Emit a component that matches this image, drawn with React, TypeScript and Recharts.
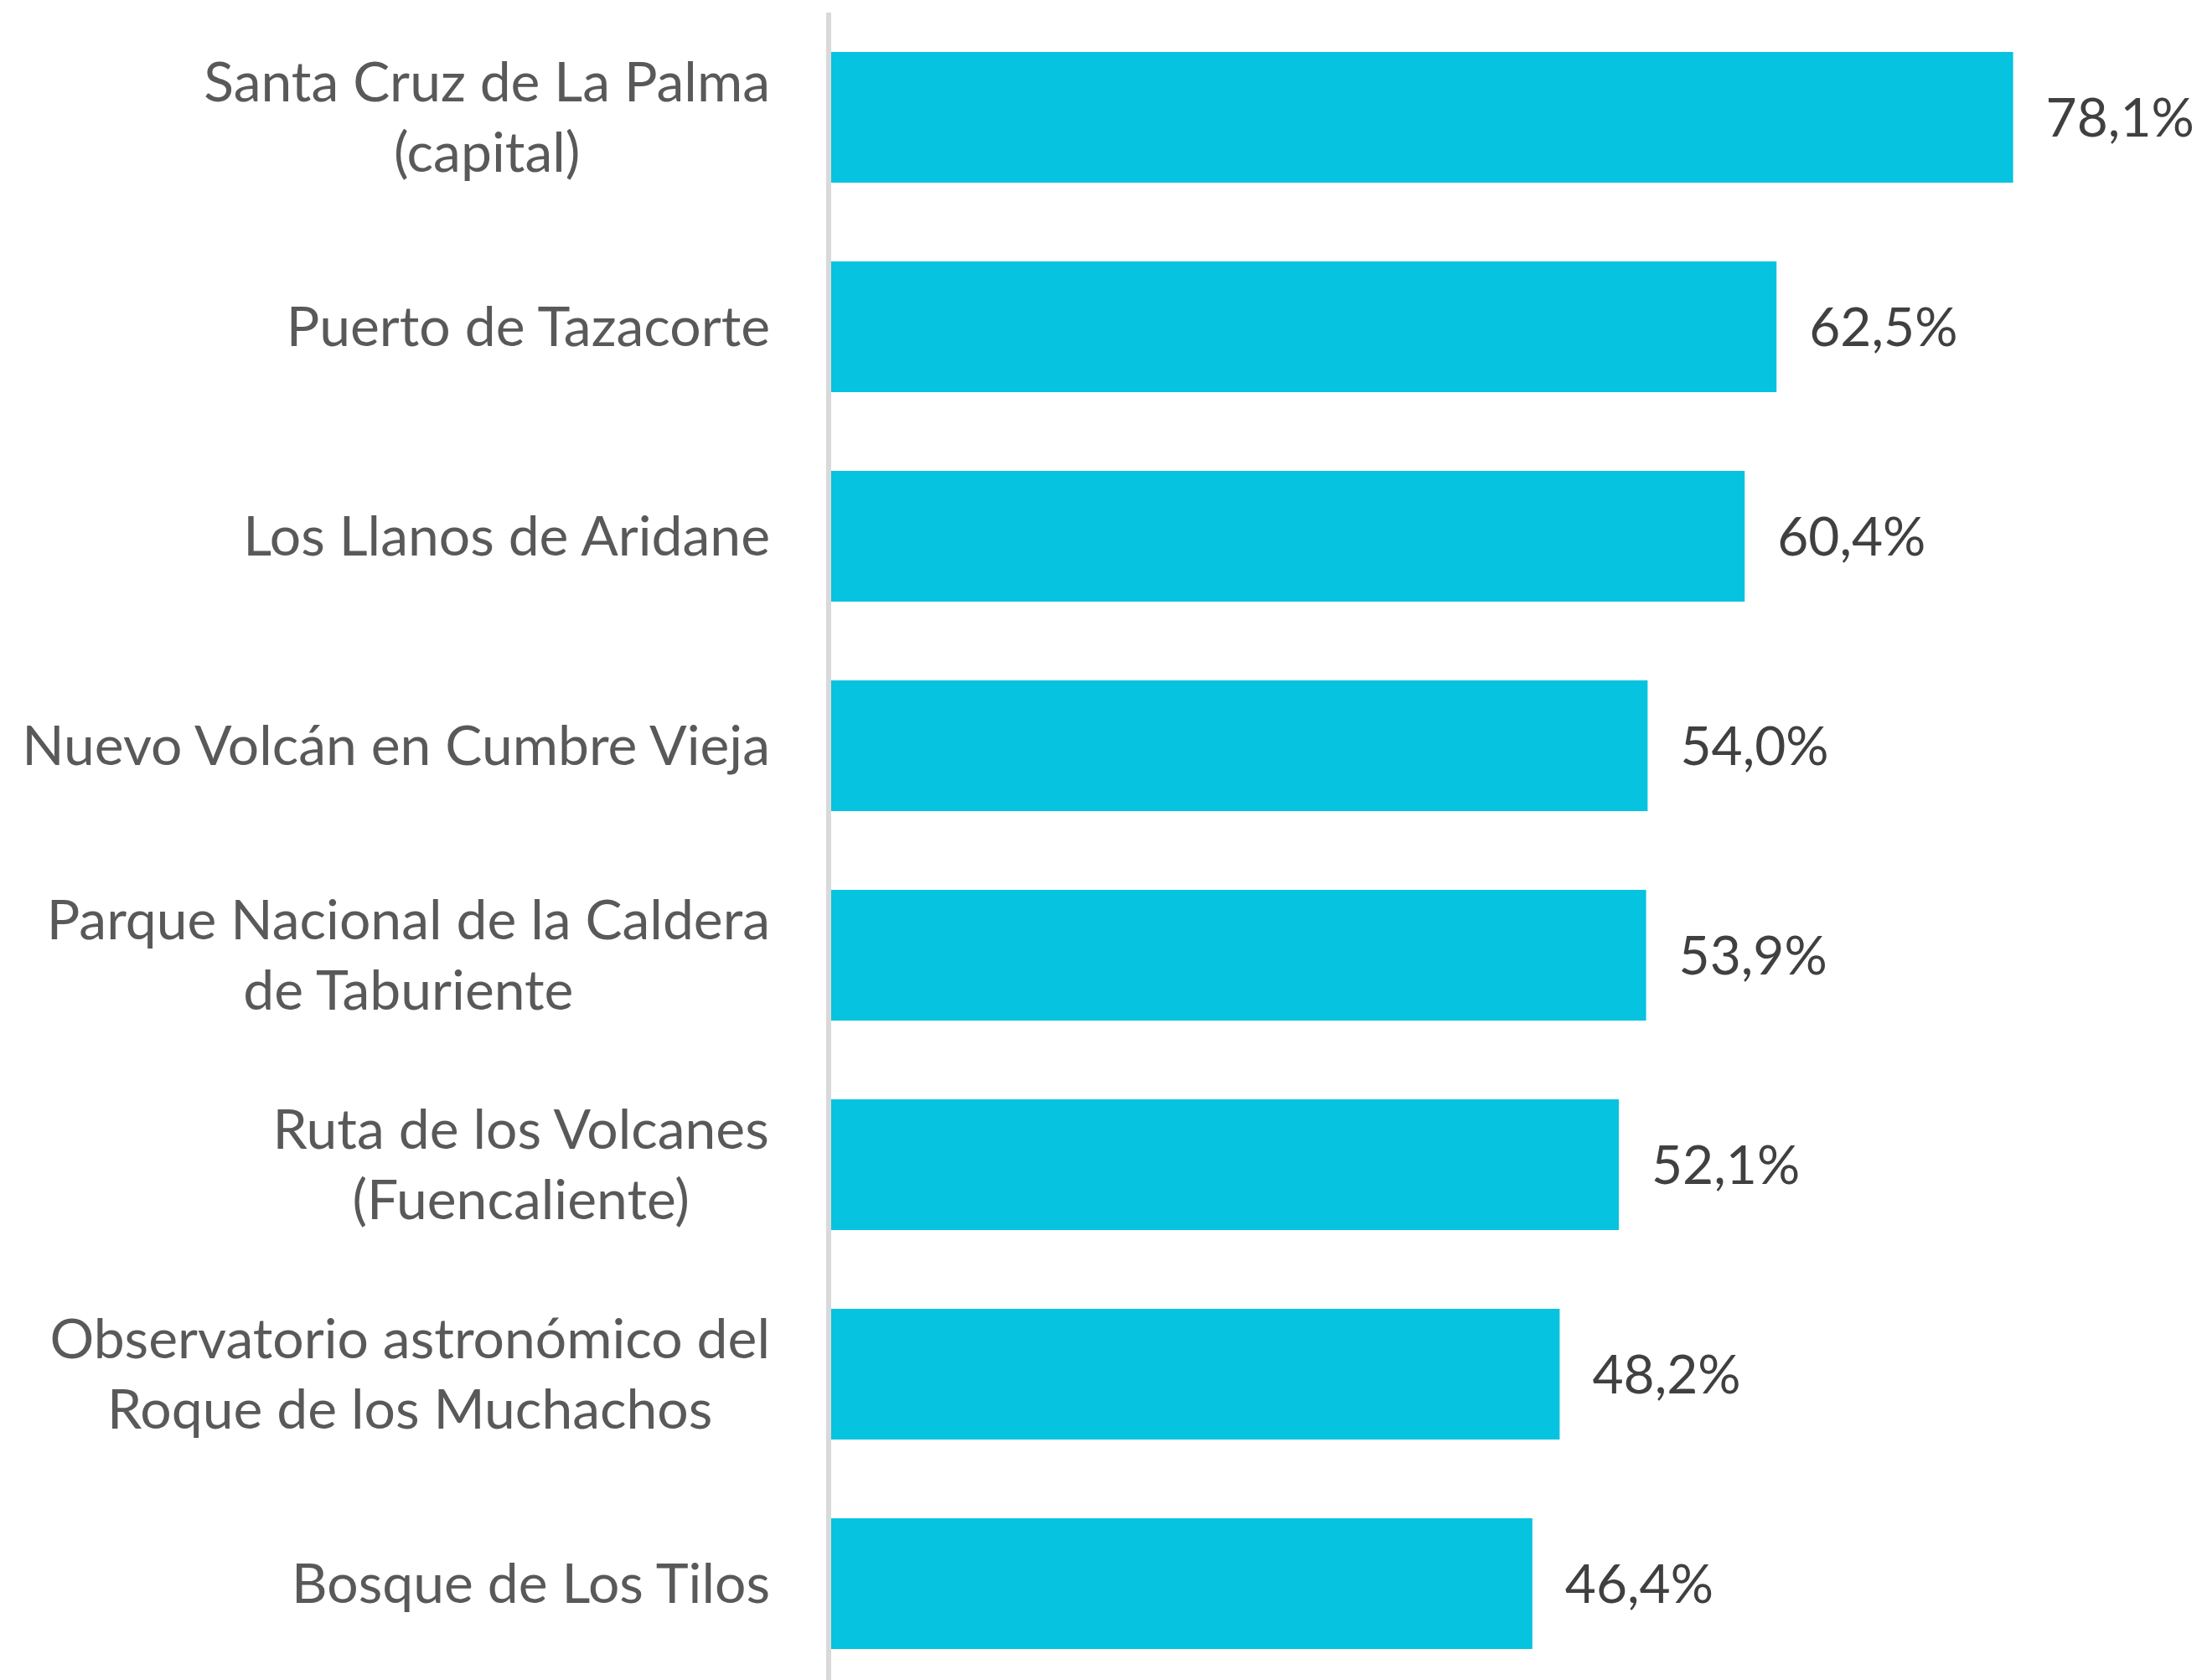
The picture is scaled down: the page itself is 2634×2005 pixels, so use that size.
import { BarChart, Bar, XAxis, YAxis, LabelList } from "recharts"

const places = [
  "Santa Cruz de La Palma\n(capital)",
  "Puerto de Tazacorte",
  "Los Llanos de Aridane",
  "Nuevo Volcán en Cumbre Vieja",
  "Parque Nacional de la Caldera\nde Taburiente",
  "Ruta de los Volcanes\n(Fuencaliente)",
  "Observatorio astronómico del\nRoque de los Muchachos",
  "Bosque de Los Tilos",
]

const shares = [78.1, 62.5, 60.4, 54.0, 53.9, 52.1, 48.2, 46.4]

const data = places.map((place, i) => ({ place, share: shares[i] }))

const FONT = "Lato, 'Noto Sans', sans-serif"
const TICK_SIZE = 66
const VALUE_SIZE = 64

let ctx: CanvasRenderingContext2D | null = null
function textWidth(s: string) {
  if (!ctx) ctx = document.createElement("canvas").getContext("2d")
  if (!ctx) return s.length * TICK_SIZE * 0.5
  ctx.font = `${TICK_SIZE}px ${FONT}`
  return ctx.measureText(s).width
}

// Excel-style wrapped label: block right-aligned, lines centred within it
function PlaceTick({ x, y, payload }: any) {
  const lines = String(payload.value).split("\n")
  const lineH = 84
  const right = x - 68
  const widest = Math.max(...lines.map(textWidth))
  const cx = right - widest / 2
  const top = y - ((lines.length - 1) * lineH) / 2
  return (
    <g>
      {lines.map((line, i) => (
        <text
          key={i}
          x={lines.length > 1 ? cx : right}
          y={top + i * lineH}
          dy="0.35em"
          textAnchor={lines.length > 1 ? "middle" : "end"}
          fill="#595959"
          fontSize={TICK_SIZE}
          fontFamily={FONT}
        >
          {line}
        </text>
      ))}
    </g>
  )
}

const fmt = (v: number) => `${v.toFixed(1).replace(".", ",")}%`

export default function App() {
  return (
    <div style={{ position: "absolute", left: 0, top: 0, background: "#fff" }}>
      <BarChart
        width={2634}
        height={2030}
        data={data}
        layout="vertical"
        margin={{ top: 15, right: 197, bottom: 15, left: 0 }}
      >
        <XAxis type="number" domain={[0, 80]} hide />
        <YAxis
          type="category"
          dataKey="place"
          width={989}
          tickLine={false}
          tickSize={0}
          axisLine={{ stroke: "#d9d9d9", strokeWidth: 6 }}
          tick={<PlaceTick />}
          interval={0}
        />
        <Bar dataKey="share" fill="#06c3df" barSize={156} isAnimationActive={false}>
          <LabelList
            dataKey="share"
            position="right"
            offset={39}
            formatter={(v: any) => fmt(Number(v))}
            fill="#404040"
            fontSize={VALUE_SIZE}
            fontFamily={FONT}
          />
        </Bar>
      </BarChart>
    </div>
  )
}
